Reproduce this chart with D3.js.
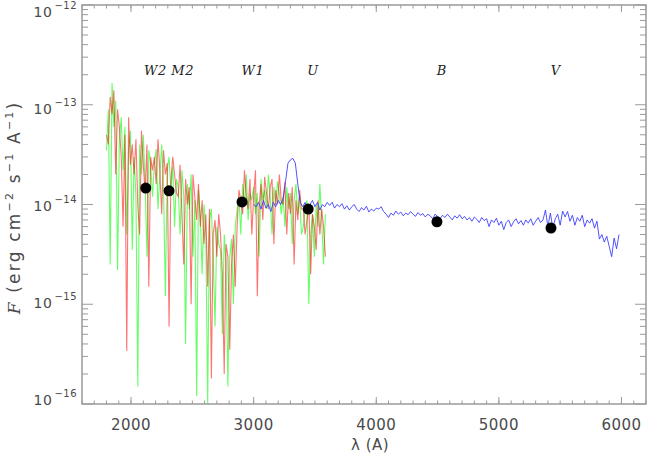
<!DOCTYPE html>
<html>
<head>
<meta charset="utf-8">
<script src="https://cdn.jsdelivr.net/npm/d3@7"></script>
<style>
  body { margin: 0; background: #fff; }
  text { font-family: "DejaVu Sans", sans-serif; fill: #4a4a4a; }
</style>
</head>
<body>
<div id="chart"></div>
<script>
// UV grism spectra, flux in units of 1e-14 erg/cm2/s/A, grid starts 1800 A, 15 A steps
let uvStart = 1800, uvStep = 15;
let greenFlux = [
  3.5, 9, 0.25, 16.5, 6, 11, 0.22,
  4.5, 7.5, 2.2, 6, 0.5, 3.5, 5.5, 0.35,
  3, 1.2, 0.015, 4, 2, 5, 1.6, 0.3, 3.5, 2.5, 1.2,
  2.5, 3.6, 0.9, 2, 4, 1.5, 0.12, 2.2, 3, 1.4, 2.4, 0.6, 1.8,
  1.5, 0.5, 2.2, 1.2, 0.04, 1.6, 0.9, 2, 0.3, 1.1, 0.012, 1.4,
  0.8, 0.2, 1.0, 0.5, 0.01, 0.7, 0.9, 0.3, 0.06, 0.6, 0.4,
  0.35, 0.05, 0.5, 0.25, 0.015, 0.3, 0.45, 0.1, 0.6,
  0.9, 1.2, 0.5, 1.6, 1.0, 2.0, 0.7, 1.3, 1.1,
  1.5, 0.8, 1.3, 0.3, 1.8, 1.1, 1.4, 0.9, 2.0, 1.2, 0.5, 1.5, 1.0, 1.7, 1.3, 0.8,
  1.2, 0.6, 1.5, 0.9, 1.3, 0.4, 1.1, 1.6, 0.8, 1.2, 0.5,
  0.6, 0.9, 1.1, 0.1, 0.5, 0.8, 0.3, 1.0, 0.6, 1.6, 0.7, 0.25, 0.8
];
let redFlux = [
  5, 4, 12, 8, 14, 2.0, 9,
  6, 3, 0.6, 5, 0.034, 7.5, 2.5, 4,
  2, 4.5, 1.0, 0.5, 5.5, 2.5, 1.3, 4, 0.15, 3, 2.2,
  3, 1.6, 4.5, 2.2, 0.8, 3.5, 2, 2.6, 0.06, 1.7, 3, 2, 1.3,
  1.2, 2.5, 0.8, 0.25, 1.8, 1.0, 1.5, 0.1, 2.0, 1.2, 0.7, 1.6,
  0.6, 1.1, 0.4, 0.8, 0.15, 0.9, 0.018, 0.5, 0.7, 0.3, 0.8,
  0.5, 0.2, 0.02, 0.4, 0.3, 0.035, 0.25, 0.5, 0.15,
  0.6, 1.4, 1.1, 0.8, 2.2, 1.2, 0.9, 1.8, 0.5,
  1.2, 2.2, 0.12, 1.0, 1.6, 0.7, 1.9, 1.3, 0.9, 1.5, 1.8, 0.4, 1.4, 1.0, 2.0, 1.1,
  1.0, 1.7, 0.5, 1.3, 0.8, 1.5, 0.25, 1.1, 0.7, 1.4, 0.9,
  0.9, 0.5, 0.7, 1.0, 0.2, 0.8, 0.6, 0.35, 1.1, 0.5, 0.9, 0.6, 0.3
];

// optical spectrum, same units, grid starts 3000 A, 20 A steps
let optStart = 3000, optStep = 20;
let blueFlux = [
  1.0, 0.95, 1.05, 0.9, 1.1, 0.92, 1.0, 0.85, 1.05, 0.95, 1.1, 1.0,
  1.15, 1.7, 2.6, 2.8, 2.9, 2.6, 1.6, 1.05, 0.95,
  1.05, 0.9, 1.0, 1.1, 0.95, 1.05, 0.88, 1.0, 0.95, 1.05,
  0.98, 1.05, 0.92, 1.0, 0.95, 1.02, 0.9, 0.97, 0.88, 0.95, 1.0, 0.9, 0.85, 0.93, 0.88, 0.96, 0.84, 0.9, 0.86, 0.92,
  0.9, 0.95, 0.85, 0.8, 0.74, 0.82, 0.78, 0.86, 0.8, 0.84, 0.77, 0.82, 0.79, 0.85, 0.8, 0.76, 0.83, 0.78, 0.81, 0.75,
  0.8, 0.77, 0.72, 0.8, 0.76, 0.72, 0.78, 0.74, 0.8, 0.75, 0.7, 0.77, 0.73, 0.79, 0.72, 0.76, 0.7, 0.74, 0.68, 0.75,
  0.71, 0.66, 0.74, 0.69, 0.72, 0.6, 0.7, 0.66, 0.73, 0.62, 0.68, 0.56, 0.66, 0.7, 0.6, 0.67, 0.72, 0.64, 0.69, 0.62,
  0.7, 0.65, 0.72, 0.62, 0.68, 0.74, 0.66, 0.7, 0.88, 0.6, 0.82, 0.58, 0.72, 0.8, 0.62, 0.86, 0.75, 0.85, 0.68, 0.78,
  0.62, 0.74, 0.68, 0.78, 0.6, 0.7, 0.65, 0.72, 0.58, 0.68, 0.45, 0.5, 0.42, 0.48, 0.38, 0.3, 0.46, 0.36, 0.5
];

// photometry points (wavelength A, flux 1e-14)
let photLambda = [2120, 2310, 2905, 3445, 4495, 5425];
let photFlux = [1.46, 1.37, 1.06, 0.90, 0.67, 0.58];

// filter names along the top
let filterNames = ["W2 M2", "W1", "U", "B", "V"];
let filterLambda = [2310, 2994, 3483, 4534, 5463];

let xTicks = [2000, 3000, 4000, 5000, 6000];
let yExps = [-16, -15, -14, -13, -12];

////////////////////////////////////////////////////////////////////////

let width = 647, height = 457;
let padL = 82, padR = 646, padT = 5, padB = 404;
let axisColor = "#9a9a9a";

let svg = d3.select("#chart").append("svg")
  .attr("width", width).attr("height", height);

let xScale = d3.scaleLinear().domain([1600, 6200]).range([padL, padR]);
let yScale = d3.scaleLog().domain([1e-16, 1e-12]).range([padB, padT]);

// turn a flux array on a regular grid into points
function toPoints(arr, start, step) {
  return arr.map((v, i) => [start + i * step, v * 1e-14]);
}

let line = d3.line()
  .x(d => xScale(d[0]))
  .y(d => yScale(Math.max(d[1], 1e-16)));

svg.append("clipPath").attr("id", "plotclip")
  .append("rect").attr("x", padL).attr("y", padT)
  .attr("width", padR - padL).attr("height", padB - padT);

let plot = svg.append("g").attr("clip-path", "url(#plotclip)");

plot.append("path")
  .attr("d", line(toPoints(greenFlux, uvStart, uvStep)))
  .attr("fill", "none").attr("stroke", "#00ff00")
  .attr("stroke-opacity", 0.6).attr("stroke-width", 1.1);

plot.append("path")
  .attr("d", line(toPoints(redFlux, uvStart, uvStep)))
  .attr("fill", "none").attr("stroke", "#ff0000")
  .attr("stroke-opacity", 0.55).attr("stroke-width", 1.1);

plot.append("path")
  .attr("d", line(toPoints(blueFlux, optStart, optStep)))
  .attr("fill", "none").attr("stroke", "#3535ff")
  .attr("stroke-opacity", 0.85).attr("stroke-width", 1);

plot.selectAll(".phot")
  .data(photLambda)
  .enter()
  .append("circle")
  .attr("class", "phot")
  .attr("cx", d => xScale(d))
  .attr("cy", (d, i) => yScale(photFlux[i] * 1e-14))
  .attr("r", 5.5)
  .attr("fill", "#000");

// filter labels
svg.selectAll(".filt")
  .data(filterNames)
  .enter()
  .append("text")
  .attr("class", "filt")
  .attr("x", (d, i) => xScale(filterLambda[i]))
  .attr("y", 75)
  .attr("text-anchor", "middle")
  .style("font-family", "'DejaVu Serif', serif")
  .style("font-style", "italic")
  .style("font-size", "13px")
  .style("letter-spacing", "0.5px")
  .style("fill", "#222")
  .text(d => d);

////////////////////////////////////////////////////////////////////////
// axes, IDL style: ticks inward on all four sides

let axes = svg.append("g");

// minor and major x ticks
let xMinor = d3.range(1600, 6201, 100);
let yMinor = [];
for (let e = -16; e < -12; e++) {
  for (let m = 2; m < 10; m++) yMinor.push(m * Math.pow(10, e));
}

function tickLines(vals, horiz, len, pos) {
  axes.selectAll(null)
    .data(vals)
    .enter()
    .append("line")
    .attr("x1", d => horiz ? xScale(d) : pos)
    .attr("x2", d => horiz ? xScale(d) : pos + len)
    .attr("y1", d => horiz ? pos : yScale(d))
    .attr("y2", d => horiz ? pos - len : yScale(d))
    .attr("stroke", axisColor)
    .attr("stroke-width", 1);
}

tickLines(xMinor, true, 3.5, padB);
tickLines(xMinor, true, -3.5, padT);
tickLines(xTicks, true, 7, padB);
tickLines(xTicks, true, -7, padT);
tickLines(yMinor, false, 6, padL);
tickLines(yMinor, false, -6, padR);
tickLines(yExps.map(e => Math.pow(10, e)), false, 11, padL);
tickLines(yExps.map(e => Math.pow(10, e)), false, -11, padR);

axes.append("rect")
  .attr("x", padL).attr("y", padT)
  .attr("width", padR - padL).attr("height", padB - padT)
  .attr("fill", "none").attr("stroke", axisColor).attr("stroke-width", 1.5);

// x tick labels
svg.selectAll(".xlab")
  .data(xTicks)
  .enter()
  .append("text")
  .attr("class", "xlab")
  .attr("x", d => xScale(d))
  .attr("y", 430)
  .attr("text-anchor", "middle")
  .style("font-size", "15px")
  .style("letter-spacing", "0.5px")
  .text(d => d);

// y tick labels 10^e, spaced slightly tighter than the ticks like the original
let ylab = svg.selectAll(".ylab")
  .data(yExps)
  .enter()
  .append("text")
  .attr("class", "ylab")
  .attr("x", 77)
  .attr("y", d => 405 - (d + 16) * 97)
  .attr("text-anchor", "end")
  .style("font-size", "14px");
ylab.append("tspan").style("letter-spacing", "0.5px").text("10");
ylab.append("tspan")
  .attr("dy", -8)
  .attr("dx", 2)
  .style("font-size", "10px")
  .style("letter-spacing", "0.5px")
  .text(d => "\u2212" + Math.abs(d));

// axis titles
svg.append("text")
  .attr("x", xScale(3950))
  .attr("y", 450)
  .attr("text-anchor", "middle")
  .style("font-size", "15px")
  .style("letter-spacing", "0.5px")
  .text("\u03bb (A)");

let yt = svg.append("text")
  .attr("transform", "translate(20," + ((padT + padB) / 2 + 3) + ") rotate(-90)")
  .attr("text-anchor", "middle")
  .style("font-size", "17px")
  .style("letter-spacing", "2.2px");
yt.append("tspan").style("font-style", "italic").style("font-family", "'DejaVu Serif', serif").text("F");
yt.append("tspan").text(" (erg cm");
yt.append("tspan").attr("dy", -7).style("font-size", "11px").text("\u22122");
yt.append("tspan").attr("dy", 7).text(" s");
yt.append("tspan").attr("dy", -7).style("font-size", "11px").text("\u22121");
yt.append("tspan").attr("dy", 7).text(" A");
yt.append("tspan").attr("dy", -7).style("font-size", "11px").text("\u22121");
yt.append("tspan").attr("dy", 7).text(")");
</script>
</body>
</html>
